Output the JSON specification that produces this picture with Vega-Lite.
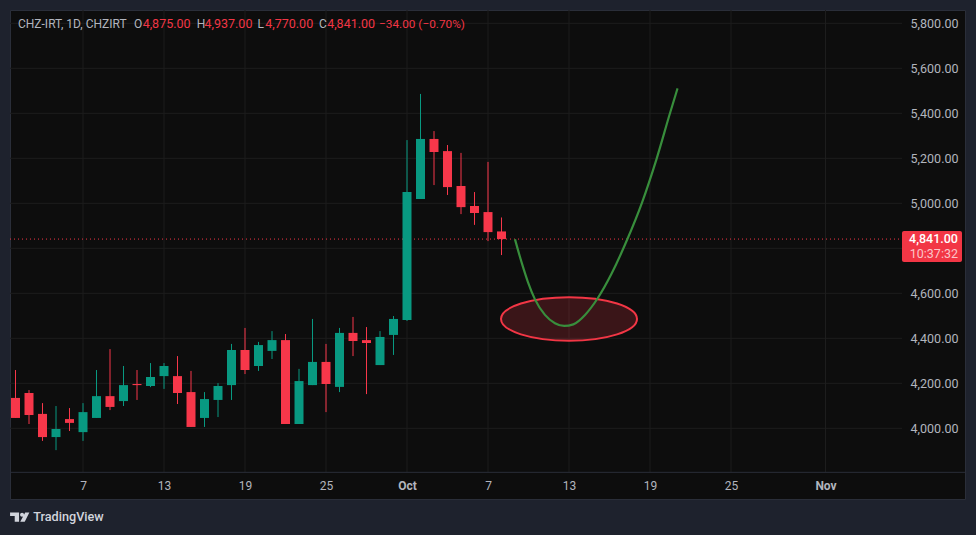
{
  "$schema": "https://vega.github.io/schema/vega-lite/v6.json",
  "width": 955,
  "height": 489,
  "autosize": "none",
  "padding": {"left": 10, "top": 10, "right": 11, "bottom": 36},
  "background": "#1e222d",
  "view": {"fill": "#0d0d0d", "stroke": "#2a2e39"},
  "config": {"text": {"font": "Roboto"}, "axis": {"labelFont": "Roboto"}},
  "datasets": {
    "candles": [
      {"date": "2024-09-02T00:00:00Z", "open": 4135, "high": 4259, "low": 4046, "close": 4046},
      {"date": "2024-09-03T00:00:00Z", "open": 4157, "high": 4170, "low": 4019, "close": 4059},
      {"date": "2024-09-04T00:00:00Z", "open": 4064, "high": 4112, "low": 3944, "close": 3961},
      {"date": "2024-09-05T00:00:00Z", "open": 3961, "high": 4099, "low": 3903, "close": 3997},
      {"date": "2024-09-06T00:00:00Z", "open": 4041, "high": 4090, "low": 3988, "close": 4024},
      {"date": "2024-09-07T00:00:00Z", "open": 3983, "high": 4112, "low": 3944, "close": 4072},
      {"date": "2024-09-08T00:00:00Z", "open": 4046, "high": 4259, "low": 4046, "close": 4143},
      {"date": "2024-09-09T00:00:00Z", "open": 4143, "high": 4352, "low": 4081, "close": 4095},
      {"date": "2024-09-10T00:00:00Z", "open": 4121, "high": 4277, "low": 4099, "close": 4192},
      {"date": "2024-09-11T00:00:00Z", "open": 4197, "high": 4259, "low": 4126, "close": 4192},
      {"date": "2024-09-12T00:00:00Z", "open": 4188, "high": 4290, "low": 4183, "close": 4228},
      {"date": "2024-09-13T00:00:00Z", "open": 4232, "high": 4290, "low": 4175, "close": 4277},
      {"date": "2024-09-14T00:00:00Z", "open": 4232, "high": 4321, "low": 4108, "close": 4157},
      {"date": "2024-09-15T00:00:00Z", "open": 4161, "high": 4255, "low": 4006, "close": 4006},
      {"date": "2024-09-16T00:00:00Z", "open": 4046, "high": 4161, "low": 4006, "close": 4130},
      {"date": "2024-09-17T00:00:00Z", "open": 4126, "high": 4201, "low": 4050, "close": 4188},
      {"date": "2024-09-18T00:00:00Z", "open": 4192, "high": 4375, "low": 4126, "close": 4348},
      {"date": "2024-09-19T00:00:00Z", "open": 4348, "high": 4446, "low": 4241, "close": 4259},
      {"date": "2024-09-20T00:00:00Z", "open": 4277, "high": 4384, "low": 4255, "close": 4370},
      {"date": "2024-09-21T00:00:00Z", "open": 4344, "high": 4432, "low": 4308, "close": 4392},
      {"date": "2024-09-22T00:00:00Z", "open": 4392, "high": 4419, "low": 4019, "close": 4019},
      {"date": "2024-09-23T00:00:00Z", "open": 4019, "high": 4264, "low": 4019, "close": 4210},
      {"date": "2024-09-24T00:00:00Z", "open": 4192, "high": 4486, "low": 4192, "close": 4295},
      {"date": "2024-09-25T00:00:00Z", "open": 4295, "high": 4375, "low": 4072, "close": 4197},
      {"date": "2024-09-26T00:00:00Z", "open": 4184, "high": 4446, "low": 4161, "close": 4424},
      {"date": "2024-09-27T00:00:00Z", "open": 4424, "high": 4495, "low": 4321, "close": 4388},
      {"date": "2024-09-28T00:00:00Z", "open": 4392, "high": 4450, "low": 4152, "close": 4379},
      {"date": "2024-09-29T00:00:00Z", "open": 4281, "high": 4432, "low": 4281, "close": 4406},
      {"date": "2024-09-30T00:00:00Z", "open": 4415, "high": 4499, "low": 4326, "close": 4486},
      {"date": "2024-10-01T00:00:00Z", "open": 4481, "high": 5281, "low": 4477, "close": 5050},
      {"date": "2024-10-02T00:00:00Z", "open": 5019, "high": 5486, "low": 5019, "close": 5286},
      {"date": "2024-10-03T00:00:00Z", "open": 5286, "high": 5321, "low": 5081, "close": 5228},
      {"date": "2024-10-04T00:00:00Z", "open": 5232, "high": 5259, "low": 5037, "close": 5072},
      {"date": "2024-10-05T00:00:00Z", "open": 5077, "high": 5224, "low": 4952, "close": 4983},
      {"date": "2024-10-06T00:00:00Z", "open": 4988, "high": 5050, "low": 4904, "close": 4957},
      {"date": "2024-10-07T00:00:00Z", "open": 4961, "high": 5184, "low": 4832, "close": 4872},
      {"date": "2024-10-08T00:00:00Z", "open": 4875, "high": 4937, "low": 4770, "close": 4841}
    ],
    "curve": [
      {"date": "2024-10-09T00:00:00Z", "price": 4840},
      {"date": "2024-10-09T12:00:00Z", "price": 4735},
      {"date": "2024-10-09T23:00:00Z", "price": 4650},
      {"date": "2024-10-10T11:30:00Z", "price": 4573},
      {"date": "2024-10-11T05:15:00Z", "price": 4504},
      {"date": "2024-10-11T23:00:00Z", "price": 4467},
      {"date": "2024-10-12T15:30:00Z", "price": 4455},
      {"date": "2024-10-13T07:40:00Z", "price": 4462},
      {"date": "2024-10-14T04:30:00Z", "price": 4504},
      {"date": "2024-10-15T03:00:00Z", "price": 4578},
      {"date": "2024-10-16T04:00:00Z", "price": 4689},
      {"date": "2024-10-17T07:40:00Z", "price": 4840},
      {"date": "2024-10-18T09:20:00Z", "price": 5000},
      {"date": "2024-10-19T12:00:00Z", "price": 5200},
      {"date": "2024-10-20T11:30:00Z", "price": 5400},
      {"date": "2024-10-21T01:00:00Z", "price": 5511}
    ]
  },
  "encoding": {
    "x": {
      "field": "date",
      "type": "temporal",
      "title": null,
      "scale": {"type": "utc", "nice": false, "padding": 0, "domain": ["2024-09-01T14:13:00Z", "2024-11-11T08:00:00Z"]},
      "axis": {
        "orient": "bottom",
        "values": ["2024-09-07T00:00:00Z", "2024-09-13T00:00:00Z", "2024-09-19T00:00:00Z", "2024-09-25T00:00:00Z", "2024-10-01T00:00:00Z", "2024-10-07T00:00:00Z", "2024-10-13T00:00:00Z", "2024-10-19T00:00:00Z", "2024-10-25T00:00:00Z", "2024-11-01T00:00:00Z"],
        "labelExpr": "utcdate(datum.value) == 1 ? utcFormat(datum.value, '%b') : utcFormat(datum.value, '%-d')",
        "labelFontWeight": {"condition": {"test": "utcdate(datum.value) == 1", "value": "bold"}, "value": "normal"},
        "labelColor": "#b2b5be",
        "labelFontSize": 12,
        "labelPadding": -14,
        "labelBaseline": "middle",
        "labelFlush": false,
        "domain": false,
        "ticks": false,
        "grid": false,
        "zindex": 1
      }
    },
    "y": {
      "field": "price",
      "type": "quantitative",
      "title": null,
      "scale": {"domain": [3685.8, 5859.1], "nice": false, "zero": false},
      "axis": {
        "orient": "right",
        "values": [4000, 4200, 4400, 4600, 5000, 5200, 5400, 5600, 5800],
        "format": ",.2f",
        "labelColor": "#b2b5be",
        "labelFontSize": 12.5,
        "labelAlign": "right",
        "labelPadding": -7,
        "domain": false,
        "ticks": false,
        "grid": false,
        "zindex": 1
      }
    }
  },
  "layer": [
    {
      "data": {"values": [
        {"price": 4000}, {"price": 4200}, {"price": 4400}, {"price": 4600}, {"price": 4800},
        {"price": 5000}, {"price": 5200}, {"price": 5400}, {"price": 5600}, {"price": 5800}
      ]},
      "mark": {"type": "rule", "color": "#1d1d1d", "strokeWidth": 1},
      "encoding": {"x": {"value": 0}, "x2": {"value": 892}}
    },
    {
      "data": {"values": [
        {"date": "2024-09-07T00:00:00Z"}, {"date": "2024-09-13T00:00:00Z"}, {"date": "2024-09-19T00:00:00Z"},
        {"date": "2024-09-25T00:00:00Z"}, {"date": "2024-10-01T00:00:00Z"}, {"date": "2024-10-07T00:00:00Z"},
        {"date": "2024-10-13T00:00:00Z"}, {"date": "2024-10-19T00:00:00Z"}, {"date": "2024-10-25T00:00:00Z"},
        {"date": "2024-11-01T00:00:00Z"}
      ]},
      "mark": {"type": "rule", "color": "#1d1d1d", "strokeWidth": 1},
      "encoding": {"y": {"value": 0}, "y2": {"value": 462}}
    },
    {
      "data": {"values": [{"price": 3804.4}]},
      "mark": {"type": "rule", "color": "#2a2e39", "strokeWidth": 1},
      "encoding": {"x": {"value": 0}, "x2": {"value": 955}}
    },
    {
      "data": {"values": [{"price": 4841}]},
      "mark": {"type": "rule", "color": "#f23645", "strokeWidth": 1, "strokeDash": [1, 3]},
      "encoding": {"x": {"value": 0}, "x2": {"value": 892}}
    },
    {
      "data": {"name": "candles"},
      "mark": {"type": "rule", "strokeWidth": 1},
      "encoding": {
        "y": {"field": "low"},
        "y2": {"field": "high"},
        "color": {"condition": {"test": "datum.close >= datum.open", "value": "#089981"}, "value": "#f7374a"}
      }
    },
    {
      "data": {"name": "candles"},
      "mark": {"type": "bar", "size": 9},
      "encoding": {
        "y": {"field": "open"},
        "y2": {"field": "close"},
        "color": {"condition": {"test": "datum.close >= datum.open", "value": "#089981"}, "value": "#f7374a"}
      }
    },
    {
      "data": {"values": [{"date": "2024-10-13T00:00:00Z", "price": 4486}]},
      "mark": {
        "type": "point",
        "shape": "M-1 0 A1 .32 0 1 1 1 0 A1 .32 0 1 1 -1 0 Z",
        "size": 18496,
        "filled": true,
        "fill": "#f23645",
        "fillOpacity": 0.2,
        "stroke": "#f23645",
        "strokeWidth": 2,
        "strokeOpacity": 1,
        "opacity": 1
      }
    },
    {
      "data": {"name": "curve"},
      "mark": {"type": "line", "color": "#388e3c", "strokeWidth": 2.2, "interpolate": "monotone"}
    },
    {
      "data": {"values": [
        {"date": "2024-09-02T04:26:00Z", "price": 5797, "label": "CHZ-IRT, 1D, CHZIRT"},
        {"date": "2024-09-10T18:40:00Z", "price": 5797, "label": "O"},
        {"date": "2024-09-15T10:00:00Z", "price": 5797, "label": "H"},
        {"date": "2024-09-19T22:00:00Z", "price": 5797, "label": "L"},
        {"date": "2024-09-24T11:30:00Z", "price": 5797, "label": "C"}
      ]},
      "mark": {"type": "text", "align": "left", "baseline": "middle", "fontSize": 12, "color": "#b2b5be"},
      "encoding": {"text": {"field": "label"}}
    },
    {
      "data": {"values": [
        {"date": "2024-09-11T10:00:00Z", "price": 5797, "label": "4,875.00"},
        {"date": "2024-09-16T00:00:00Z", "price": 5797, "label": "4,937.00"},
        {"date": "2024-09-20T12:00:00Z", "price": 5797, "label": "4,770.00"},
        {"date": "2024-09-25T02:00:00Z", "price": 5797, "label": "4,841.00"}
      ]},
      "mark": {"type": "text", "align": "left", "baseline": "middle", "fontSize": 12.5, "color": "#f23645"},
      "encoding": {"text": {"field": "label"}}
    },
    {
      "data": {"values": [{"date": "2024-09-28T22:20:00Z", "price": 5797, "label": "−34.00 (−0.70%)"}]},
      "mark": {"type": "text", "align": "left", "baseline": "middle", "fontSize": 11.8, "color": "#f23645"},
      "encoding": {"text": {"field": "label"}}
    },
    {
      "data": {"values": [{"date": "2024-11-06T16:00:00Z", "end": "2024-11-11T02:40:00Z", "price": 4739, "top": 4877}]},
      "mark": {"type": "rect", "fill": "#f23645", "cornerRadius": 2},
      "encoding": {"x2": {"field": "end"}, "y2": {"field": "top"}}
    },
    {
      "data": {"values": [{"date": "2024-11-10T19:30:00Z", "price": 4843, "label": "4,841.00"}]},
      "mark": {"type": "text", "align": "right", "baseline": "middle", "fontSize": 12.5, "fontWeight": 500, "color": "#ffffff"},
      "encoding": {"text": {"field": "label"}}
    },
    {
      "data": {"values": [{"date": "2024-11-10T19:30:00Z", "price": 4775, "label": "10:37:32"}]},
      "mark": {"type": "text", "align": "right", "baseline": "middle", "fontSize": 12.5, "color": "#fbc5ca"},
      "encoding": {"text": {"field": "label"}}
    },
    {
      "data": {"values": [{"date": "2024-09-02T07:30:00Z", "price": 3605.8}]},
      "mark": {
        "type": "point",
        "shape": "M-.965 -.45 H-.065 V.47 H-.5 V-.1 H-.965 Z M.035 -.23 A.2 .2 0 1 1 .435 -.23 A.2 .2 0 1 1 .035 -.23 Z M.55 -.45 H.965 L.5 .47 H.05 Z",
        "size": 400,
        "filled": true,
        "fill": "#d1d4dc",
        "opacity": 1,
        "stroke": null
      }
    },
    {
      "data": {"values": [{"date": "2024-09-03T07:20:00Z", "price": 3605.8, "label": "TradingView"}]},
      "mark": {"type": "text", "align": "left", "baseline": "middle", "fontSize": 12.7, "fontWeight": 500, "color": "#d1d4dc"},
      "encoding": {"text": {"field": "label"}}
    }
  ]
}
